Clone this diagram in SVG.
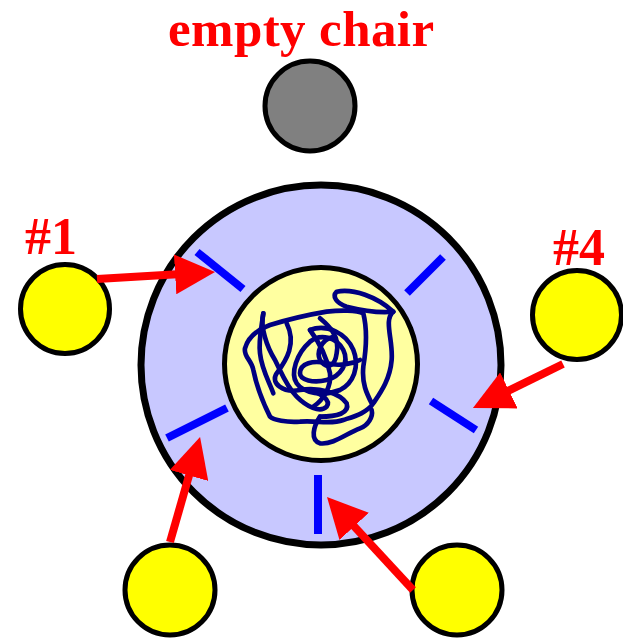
<svg xmlns="http://www.w3.org/2000/svg" width="623" height="640" viewBox="0 0 623 640">
<style>
.lbl{font-family:"Liberation Serif","Times New Roman",serif;font-weight:bold;font-size:52px;fill:#ff0000}
.chair{stroke:#000;stroke-width:5}
.tick{stroke:#0000ff;stroke-width:8;stroke-linecap:butt}
.arrow{stroke:#ff0000;stroke-width:8;fill:none;marker-end:url(#head)}
.scr{fill:none;stroke:#000080;stroke-width:14;stroke-linejoin:round;stroke-linecap:round}
</style>
<defs>
<marker id="head" viewBox="0 0 40 40" refX="2" refY="20" markerWidth="40" markerHeight="40" markerUnits="userSpaceOnUse" orient="auto">
<path d="M0,0 L40,20 L0,40 z" fill="#ff0000"/>
</marker>
</defs>
<rect width="623" height="640" fill="#fff"/>
<g id="table">
<circle cx="321" cy="365" r="180" fill="#c8c8ff" stroke="#000" stroke-width="7"/>
<line class="tick" x1="197" y1="252" x2="243" y2="289"/>
<line class="tick" x1="407" y1="293" x2="443" y2="257"/>
<line class="tick" x1="431" y1="401" x2="476" y2="430"/>
<line class="tick" x1="318" y1="475" x2="318" y2="534"/>
<line class="tick" x1="167" y1="438" x2="227" y2="408"/>
</g>
<g id="bowl">
<circle cx="321" cy="364" r="96.5" fill="#ffffa0" stroke="#000" stroke-width="5"/>
<g transform="translate(220 260) scale(0.3333)">
<path class="scr" d="M350 95 C400 85 470 110 520 155 C470 160 420 150 380 140 C350 130 335 110 350 95 Z"/>
<path class="scr" d="M520 155 C490 180 520 240 515 300 C510 360 480 400 460 430 C440 460 400 470 370 480 C330 495 290 480 240 485 C200 488 160 480 150 470 C130 430 110 380 100 330 C95 300 70 290 75 265 C85 230 110 210 150 195 C200 180 260 165 320 155 C360 150 410 150 430 160 C440 200 440 260 430 320 C425 370 440 400 455 430"/>
<path class="scr" d="M300 470 C280 500 270 540 300 550 C340 555 380 520 420 505 C445 495 460 470 455 450"/>
<path class="scr" d="M130 160 C120 200 140 260 165 300 C185 340 200 380 230 410 C260 440 300 460 320 440 C335 420 300 400 270 390"/>
<path class="scr" d="M130 160 C125 200 115 240 120 280 C125 330 150 370 160 400"/>
<path class="scr" d="M270 210 C320 190 380 220 400 270 C420 320 400 370 360 390 C310 410 250 400 230 370 C210 340 230 280 270 245 C300 220 350 230 370 270 C390 310 360 350 320 360 C280 370 240 360 240 340 C240 310 280 300 320 310 C360 320 400 310 420 300"/>
<path class="scr" d="M200 190 C230 250 200 300 170 340 C150 370 190 400 240 390 C300 380 360 400 380 430 C390 460 350 470 300 470"/>
<path class="scr" d="M270 210 C300 250 320 290 330 340 C335 380 310 420 280 440"/>
<path class="scr" d="M300 175 C330 200 360 230 350 280 C345 320 320 330 300 300 C290 280 300 240 340 230"/>
</g>
</g>
<g id="empty-chair">
<circle class="chair" cx="310" cy="106" r="45" fill="#808080"/>
<text class="lbl" x="168" y="45.5" style="font-size:51px" letter-spacing="0.4">empty chair</text>
</g>
<g id="p1">
<circle class="chair" cx="65" cy="309" r="44.5" fill="#ffff00"/>
<text class="lbl" x="25" y="254">#1</text>
</g>
<g id="p4">
<circle class="chair" cx="577" cy="315" r="44.5" fill="#ffff00"/>
<text class="lbl" x="553" y="265">#4</text>
</g>
<g id="p2">
<circle class="chair" cx="170" cy="590" r="45" fill="#ffff00"/>
</g>
<g id="p3">
<circle class="chair" cx="457" cy="590" r="45" fill="#ffff00"/>
</g>
<g id="connectors">
<line class="arrow" x1="97" y1="279" x2="177.1" y2="274.2"/>
<line class="arrow" x1="563" y1="364" x2="507.1" y2="391.3"/>
<line class="arrow" x1="170" y1="542" x2="189.6" y2="473.5"/>
<line class="arrow" x1="413" y1="590" x2="352.8" y2="524.9"/>
</g>
</svg>
